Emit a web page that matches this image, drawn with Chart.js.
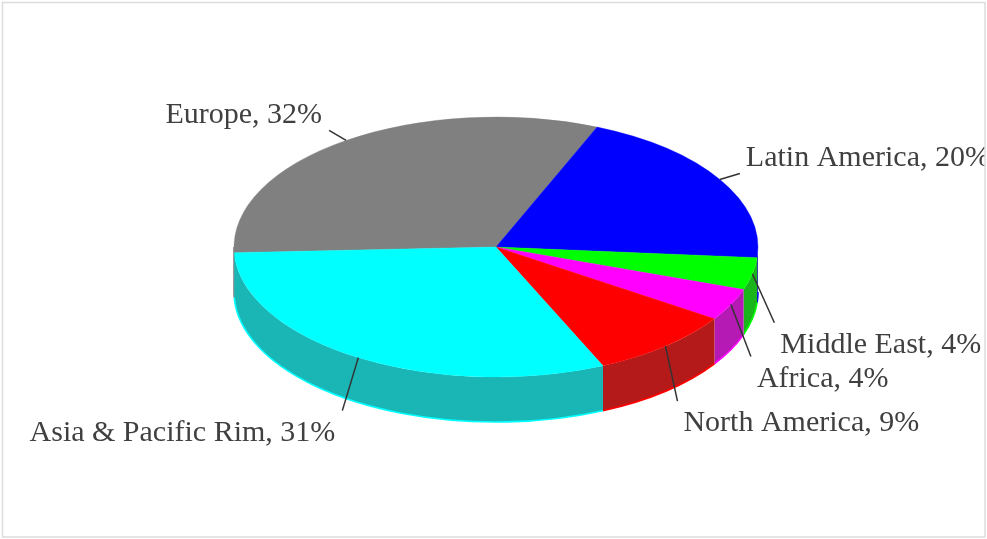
<!DOCTYPE html>
<html><head><meta charset="utf-8">
<script src="https://cdn.jsdelivr.net/npm/chart.js@4.4.0/dist/chart.umd.min.js"></script>
<style>
html,body{margin:0;padding:0;background:#fff;overflow:hidden}
#wrap{position:absolute;left:0;top:0;width:987px;height:539px}
canvas{display:block}
</style>
</head><body>
<div id="wrap"><canvas id="c" width="987" height="539"></canvas></div>
<script>
// ---- data ----
const categories = ['Europe', 'Latin America', 'Middle East', 'Africa', 'North America', 'Asia & Pacific Rim'];
const shares = [32, 20, 4, 4, 9, 31];

// ---- styles / layout ----
const topColors  = ['#808080', '#0000ff', '#00ff00', '#ff00ff', '#ff0000', '#00ffff'];
const sideColors = ['#5a5a5a', '#1a1ab5', '#1ab51a', '#b51ab5', '#b51a1a', '#1ab5b5'];
const leaderOffsets = [[-17, -10], [20, -6], [22, 49], [20, 52], [12, 55], [-16, 53]];
const view = { cx: 496, cy: 247, rx: 262, ry: 130, depth: 45 };
const frame = { x: 2.5, y: 2.5, w: 982.5, h: 534.5 };

function frontRanges(s, e) {
  const out = [];
  for (let k = -2; k <= 2; k++) {
    const lo = 2 * Math.PI * k, hi = lo + Math.PI;
    const a = Math.max(s, lo), b = Math.min(e, hi);
    if (b > a) out.push([a, b]);
  }
  return out;
}

const pie3d = {
  id: 'pie3d',
  beforeDatasetsDraw(chart) {
    const ctx = chart.ctx;
    const meta = chart.getDatasetMeta(0);
    const { cx, cy, rx, ry, depth } = view;
    meta.data.forEach((el, i) => {
      frontRanges(el.startAngle, el.endAngle).forEach(([a, b]) => {
        ctx.save();
        ctx.beginPath();
        ctx.ellipse(cx, cy, rx, ry, 0, a, b, false);
        ctx.ellipse(cx, cy + depth, rx, ry, 0, b, a, true);
        ctx.closePath();
        ctx.fillStyle = sideColors[i];
        ctx.fill();
        ctx.beginPath();
        ctx.ellipse(cx, cy + depth, rx, ry, 0, a, b, false);
        if (Math.abs(b - Math.PI) < 1e-6 || Math.abs(b - 3 * Math.PI) < 1e-6) {
          ctx.lineTo(cx - rx, cy);
        }
        ctx.strokeStyle = topColors[i];
        ctx.lineWidth = 1.6;
        ctx.stroke();
        ctx.restore();
      });
    });
    const el0 = meta.data[0];
    const R = el0.outerRadius;
    ctx.save();
    ctx.translate(cx, cy);
    ctx.scale(rx / R, ry / R);
    ctx.translate(-el0.x, -el0.y);
  },
  afterDatasetsDraw(chart) {
    const ctx = chart.ctx;
    ctx.restore();
    const meta = chart.getDatasetMeta(0);
    const { cx, cy, rx, ry } = view;
    ctx.save();
    ctx.beginPath();
    ctx.rect(frame.x, frame.y, frame.w, frame.h);
    ctx.clip();
    ctx.font = '30px "Liberation Serif", "Times New Roman", serif';
    ctx.textBaseline = 'alphabetic';
    meta.data.forEach((el, i) => {
      const mid = (el.startAngle + el.endAngle) / 2;
      const px = cx + rx * Math.cos(mid), py = cy + ry * Math.sin(mid);
      const [dx, dy] = leaderOffsets[i];
      const ex = px + dx, ey = py + dy;
      ctx.beginPath();
      ctx.moveTo(px, py);
      ctx.lineTo(ex, ey);
      ctx.strokeStyle = '#333333';
      ctx.lineWidth = 1.5;
      ctx.stroke();
      const label = categories[i] + ', ' + shares[i] + '%';
      ctx.fillStyle = '#404040';
      ctx.textAlign = dx < 0 ? 'right' : 'left';
      const tx = dx < 0 ? ex - 7 : ex + 6;
      const ty = dy < 0 ? ey - 7.5 : ey + 30;
      ctx.fillText(label, tx, ty);
    });
    ctx.restore();
  },
  afterDraw(chart) {
    const ctx = chart.ctx;
    ctx.save();
    ctx.strokeStyle = '#dcdcdc';
    ctx.lineWidth = 1.5;
    ctx.strokeRect(frame.x, frame.y, frame.w, frame.h);
    ctx.restore();
  }
};

new Chart(document.getElementById('c'), {
  type: 'pie',
  data: {
    labels: categories,
    datasets: [{
      data: shares,
      backgroundColor: topColors,
      borderColor: topColors,
      borderWidth: 0.5,
      hoverOffset: 0,
      offset: 0
    }]
  },
  options: {
    responsive: false,
    animation: false,
    rotation: 267.5,
    layout: { padding: { left: 232, right: 231, top: 7, bottom: 8 } },
    plugins: { legend: { display: false }, tooltip: { enabled: false } },
    events: []
  },
  plugins: [pie3d]
});
</script>
</body></html>
